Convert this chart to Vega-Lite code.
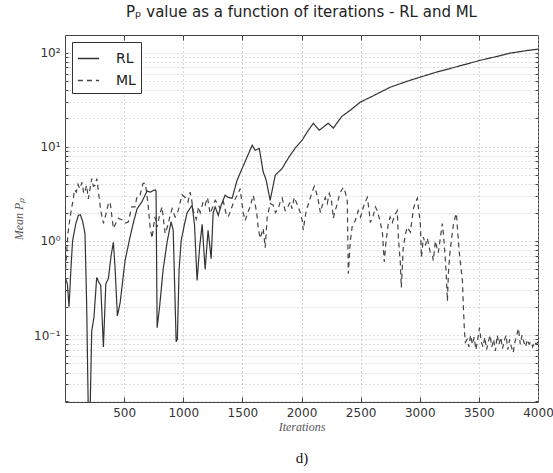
{
  "$schema": "https://vega.github.io/schema/vega-lite/v6.json",
  "background": "white",
  "padding": {"left": 12, "right": 14, "top": 4, "bottom": 5},
  "width": 473,
  "height": 367,
  "title": {"text": "Pₚ value as a function of iterations - RL and ML", "frame": "group", "anchor": "middle", "font": "DejaVu Sans", "fontSize": 15, "fontWeight": "normal", "color": "#222", "offset": 15},
  "data": {"values": [
    {"s":"RL","x":5,"y":0.4},{"s":"RL","x":20,"y":0.35},{"s":"RL","x":34,"y":0.2},{"s":"RL","x":50,"y":0.5},{"s":"RL","x":64,"y":1.0},{"s":"RL","x":90,"y":1.5},{"s":"RL","x":113,"y":1.87},{"s":"RL","x":130,"y":1.9},{"s":"RL","x":150,"y":1.6},{"s":"RL","x":169,"y":1.2},{"s":"RL","x":183,"y":0.22},{"s":"RL","x":197,"y":0.015},{"s":"RL","x":212,"y":0.015},{"s":"RL","x":226,"y":0.11},{"s":"RL","x":245,"y":0.155},{"s":"RL","x":268,"y":0.41},{"s":"RL","x":288,"y":0.36},{"s":"RL","x":302,"y":0.34},{"s":"RL","x":325,"y":0.075},{"s":"RL","x":345,"y":0.35},{"s":"RL","x":367,"y":0.4},{"s":"RL","x":390,"y":0.7},{"s":"RL","x":409,"y":0.97},{"s":"RL","x":423,"y":0.53},{"s":"RL","x":443,"y":0.16},{"s":"RL","x":466,"y":0.22},{"s":"RL","x":508,"y":0.62},{"s":"RL","x":550,"y":1.1},{"s":"RL","x":580,"y":1.6},{"s":"RL","x":610,"y":2.2},{"s":"RL","x":650,"y":2.6},{"s":"RL","x":694,"y":3.4},{"s":"RL","x":720,"y":3.3},{"s":"RL","x":762,"y":3.5},{"s":"RL","x":770,"y":3.4},{"s":"RL","x":779,"y":0.12},{"s":"RL","x":800,"y":0.2},{"s":"RL","x":830,"y":0.5},{"s":"RL","x":865,"y":1.0},{"s":"RL","x":897,"y":1.6},{"s":"RL","x":915,"y":1.3},{"s":"RL","x":940,"y":0.085},{"s":"RL","x":950,"y":0.09},{"s":"RL","x":965,"y":0.5},{"s":"RL","x":982,"y":1.0},{"s":"RL","x":1010,"y":1.5},{"s":"RL","x":1033,"y":2.0},{"s":"RL","x":1075,"y":2.4},{"s":"RL","x":1095,"y":1.5},{"s":"RL","x":1117,"y":0.38},{"s":"RL","x":1140,"y":0.9},{"s":"RL","x":1160,"y":1.5},{"s":"RL","x":1185,"y":0.5},{"s":"RL","x":1210,"y":1.3},{"s":"RL","x":1236,"y":0.65},{"s":"RL","x":1253,"y":2.0},{"s":"RL","x":1270,"y":2.3},{"s":"RL","x":1296,"y":1.87},{"s":"RL","x":1320,"y":2.4},{"s":"RL","x":1354,"y":3.06},{"s":"RL","x":1380,"y":2.9},{"s":"RL","x":1413,"y":2.84},{"s":"RL","x":1455,"y":4.4},{"s":"RL","x":1498,"y":5.9},{"s":"RL","x":1540,"y":7.8},{"s":"RL","x":1583,"y":10.4},{"s":"RL","x":1608,"y":9.2},{"s":"RL","x":1643,"y":9.6},{"s":"RL","x":1676,"y":5.4},{"s":"RL","x":1700,"y":4.5},{"s":"RL","x":1735,"y":2.7},{"s":"RL","x":1778,"y":5.0},{"s":"RL","x":1837,"y":5.9},{"s":"RL","x":1862,"y":6.7},{"s":"RL","x":1900,"y":8.0},{"s":"RL","x":1947,"y":9.7},{"s":"RL","x":2006,"y":11.8},{"s":"RL","x":2050,"y":14.5},{"s":"RL","x":2100,"y":17.8},{"s":"RL","x":2150,"y":15.0},{"s":"RL","x":2226,"y":17.8},{"s":"RL","x":2269,"y":15.8},{"s":"RL","x":2340,"y":21},{"s":"RL","x":2413,"y":24.5},{"s":"RL","x":2497,"y":29.8},{"s":"RL","x":2600,"y":34.5},{"s":"RL","x":2751,"y":43},{"s":"RL","x":2900,"y":50},{"s":"RL","x":3005,"y":55},{"s":"RL","x":3130,"y":61.5},{"s":"RL","x":3259,"y":68},{"s":"RL","x":3400,"y":76},{"s":"RL","x":3513,"y":83},{"s":"RL","x":3650,"y":91},{"s":"RL","x":3767,"y":99},{"s":"RL","x":3900,"y":105},{"s":"RL","x":4000,"y":109},
    {"s":"ML","x":5,"y":0.5},{"s":"ML","x":15,"y":0.8},{"s":"ML","x":25,"y":1.2},{"s":"ML","x":42,"y":1.74},{"s":"ML","x":55,"y":2.2},{"s":"ML","x":68,"y":2.7},{"s":"ML","x":80,"y":3.5},{"s":"ML","x":96,"y":3.3},{"s":"ML","x":110,"y":4.0},{"s":"ML","x":125,"y":3.6},{"s":"ML","x":144,"y":4.2},{"s":"ML","x":158,"y":3.2},{"s":"ML","x":169,"y":3.4},{"s":"ML","x":183,"y":3.9},{"s":"ML","x":197,"y":2.8},{"s":"ML","x":212,"y":3.6},{"s":"ML","x":226,"y":4.6},{"s":"ML","x":240,"y":3.8},{"s":"ML","x":254,"y":3.9},{"s":"ML","x":269,"y":4.6},{"s":"ML","x":282,"y":3.4},{"s":"ML","x":302,"y":2.1},{"s":"ML","x":325,"y":1.54},{"s":"ML","x":345,"y":1.9},{"s":"ML","x":367,"y":2.5},{"s":"ML","x":381,"y":2.6},{"s":"ML","x":395,"y":1.9},{"s":"ML","x":409,"y":1.36},{"s":"ML","x":425,"y":1.5},{"s":"ML","x":451,"y":1.74},{"s":"ML","x":470,"y":1.7},{"s":"ML","x":494,"y":1.66},{"s":"ML","x":515,"y":1.55},{"s":"ML","x":536,"y":1.6},{"s":"ML","x":564,"y":2.3},{"s":"ML","x":592,"y":2.3},{"s":"ML","x":610,"y":3.0},{"s":"ML","x":635,"y":3.1},{"s":"ML","x":660,"y":4.1},{"s":"ML","x":677,"y":4.1},{"s":"ML","x":690,"y":3.3},{"s":"ML","x":703,"y":2.4},{"s":"ML","x":720,"y":1.4},{"s":"ML","x":736,"y":1.07},{"s":"ML","x":745,"y":1.3},{"s":"ML","x":760,"y":1.8},{"s":"ML","x":779,"y":1.4},{"s":"ML","x":800,"y":1.9},{"s":"ML","x":821,"y":2.3},{"s":"ML","x":835,"y":1.6},{"s":"ML","x":847,"y":1.2},{"s":"ML","x":872,"y":1.5},{"s":"ML","x":890,"y":1.9},{"s":"ML","x":906,"y":2.2},{"s":"ML","x":931,"y":1.8},{"s":"ML","x":957,"y":2.1},{"s":"ML","x":975,"y":2.6},{"s":"ML","x":990,"y":3.1},{"s":"ML","x":1016,"y":2.9},{"s":"ML","x":1040,"y":2.6},{"s":"ML","x":1058,"y":3.3},{"s":"ML","x":1070,"y":2.8},{"s":"ML","x":1084,"y":2.1},{"s":"ML","x":1110,"y":1.7},{"s":"ML","x":1130,"y":2.3},{"s":"ML","x":1143,"y":2.0},{"s":"ML","x":1168,"y":2.6},{"s":"ML","x":1185,"y":2.4},{"s":"ML","x":1205,"y":2.9},{"s":"ML","x":1227,"y":1.96},{"s":"ML","x":1250,"y":2.3},{"s":"ML","x":1270,"y":2.7},{"s":"ML","x":1290,"y":2.5},{"s":"ML","x":1312,"y":2.2},{"s":"ML","x":1340,"y":2.6},{"s":"ML","x":1360,"y":2.0},{"s":"ML","x":1380,"y":1.8},{"s":"ML","x":1400,"y":2.1},{"s":"ML","x":1422,"y":2.5},{"s":"ML","x":1445,"y":2.9},{"s":"ML","x":1465,"y":3.2},{"s":"ML","x":1481,"y":3.6},{"s":"ML","x":1495,"y":2.6},{"s":"ML","x":1507,"y":2.0},{"s":"ML","x":1524,"y":1.65},{"s":"ML","x":1545,"y":2.0},{"s":"ML","x":1566,"y":2.3},{"s":"ML","x":1591,"y":3.06},{"s":"ML","x":1610,"y":2.4},{"s":"ML","x":1625,"y":1.8},{"s":"ML","x":1634,"y":1.36},{"s":"ML","x":1651,"y":1.07},{"s":"ML","x":1663,"y":1.2},{"s":"ML","x":1676,"y":1.36},{"s":"ML","x":1693,"y":0.85},{"s":"ML","x":1710,"y":1.8},{"s":"ML","x":1735,"y":2.5},{"s":"ML","x":1761,"y":2.4},{"s":"ML","x":1780,"y":2.0},{"s":"ML","x":1803,"y":2.2},{"s":"ML","x":1820,"y":2.6},{"s":"ML","x":1837,"y":2.85},{"s":"ML","x":1850,"y":2.4},{"s":"ML","x":1862,"y":2.1},{"s":"ML","x":1885,"y":2.3},{"s":"ML","x":1905,"y":2.6},{"s":"ML","x":1920,"y":2.2},{"s":"ML","x":1939,"y":2.9},{"s":"ML","x":1955,"y":2.6},{"s":"ML","x":1972,"y":2.3},{"s":"ML","x":1990,"y":2.0},{"s":"ML","x":2006,"y":1.65},{"s":"ML","x":2015,"y":1.3},{"s":"ML","x":2028,"y":1.7},{"s":"ML","x":2040,"y":2.1},{"s":"ML","x":2060,"y":2.5},{"s":"ML","x":2074,"y":2.85},{"s":"ML","x":2090,"y":3.3},{"s":"ML","x":2108,"y":3.8},{"s":"ML","x":2125,"y":3.3},{"s":"ML","x":2142,"y":2.7},{"s":"ML","x":2160,"y":2.0},{"s":"ML","x":2176,"y":2.4},{"s":"ML","x":2190,"y":2.6},{"s":"ML","x":2201,"y":2.9},{"s":"ML","x":2218,"y":2.5},{"s":"ML","x":2235,"y":3.2},{"s":"ML","x":2250,"y":2.8},{"s":"ML","x":2260,"y":2.3},{"s":"ML","x":2269,"y":1.74},{"s":"ML","x":2285,"y":2.1},{"s":"ML","x":2303,"y":2.5},{"s":"ML","x":2320,"y":3.06},{"s":"ML","x":2335,"y":3.4},{"s":"ML","x":2353,"y":3.7},{"s":"ML","x":2370,"y":3.3},{"s":"ML","x":2387,"y":2.7},{"s":"ML","x":2396,"y":0.45},{"s":"ML","x":2413,"y":1.0},{"s":"ML","x":2430,"y":1.47},{"s":"ML","x":2455,"y":1.65},{"s":"ML","x":2480,"y":2.1},{"s":"ML","x":2500,"y":1.8},{"s":"ML","x":2523,"y":2.3},{"s":"ML","x":2540,"y":2.6},{"s":"ML","x":2556,"y":2.9},{"s":"ML","x":2570,"y":2.2},{"s":"ML","x":2582,"y":1.57},{"s":"ML","x":2607,"y":1.87},{"s":"ML","x":2625,"y":2.3},{"s":"ML","x":2641,"y":2.1},{"s":"ML","x":2667,"y":1.57},{"s":"ML","x":2685,"y":1.2},{"s":"ML","x":2700,"y":0.6},{"s":"ML","x":2715,"y":1.0},{"s":"ML","x":2734,"y":1.53},{"s":"ML","x":2750,"y":1.8},{"s":"ML","x":2768,"y":1.57},{"s":"ML","x":2790,"y":1.9},{"s":"ML","x":2810,"y":2.1},{"s":"ML","x":2819,"y":1.1},{"s":"ML","x":2836,"y":0.58},{"s":"ML","x":2844,"y":0.32},{"s":"ML","x":2861,"y":0.86},{"s":"ML","x":2880,"y":1.2},{"s":"ML","x":2895,"y":1.4},{"s":"ML","x":2920,"y":1.24},{"s":"ML","x":2935,"y":1.7},{"s":"ML","x":2946,"y":2.2},{"s":"ML","x":2965,"y":2.6},{"s":"ML","x":2980,"y":2.85},{"s":"ML","x":2988,"y":2.3},{"s":"ML","x":3005,"y":1.53},{"s":"ML","x":3014,"y":0.67},{"s":"ML","x":3031,"y":1.1},{"s":"ML","x":3048,"y":0.9},{"s":"ML","x":3064,"y":1.07},{"s":"ML","x":3080,"y":0.85},{"s":"ML","x":3090,"y":0.75},{"s":"ML","x":3107,"y":0.7},{"s":"ML","x":3115,"y":0.62},{"s":"ML","x":3132,"y":1.0},{"s":"ML","x":3145,"y":0.85},{"s":"ML","x":3157,"y":0.75},{"s":"ML","x":3175,"y":1.1},{"s":"ML","x":3191,"y":1.53},{"s":"ML","x":3200,"y":1.2},{"s":"ML","x":3217,"y":0.62},{"s":"ML","x":3225,"y":0.41},{"s":"ML","x":3234,"y":0.23},{"s":"ML","x":3242,"y":0.45},{"s":"ML","x":3255,"y":0.75},{"s":"ML","x":3267,"y":1.0},{"s":"ML","x":3284,"y":1.47},{"s":"ML","x":3300,"y":1.8},{"s":"ML","x":3310,"y":1.96},{"s":"ML","x":3318,"y":1.4},{"s":"ML","x":3335,"y":0.74},{"s":"ML","x":3350,"y":0.5},{"s":"ML","x":3361,"y":0.38},{"s":"ML","x":3369,"y":0.2},{"s":"ML","x":3378,"y":0.11},{"s":"ML","x":3386,"y":0.084},
    {"s":"ML","x":3400,"y":0.09},{"s":"ML","x":3415,"y":0.075},{"s":"ML","x":3430,"y":0.1},{"s":"ML","x":3445,"y":0.08},{"s":"ML","x":3460,"y":0.095},{"s":"ML","x":3475,"y":0.07},{"s":"ML","x":3490,"y":0.09},{"s":"ML","x":3505,"y":0.12},{"s":"ML","x":3520,"y":0.085},{"s":"ML","x":3535,"y":0.075},{"s":"ML","x":3550,"y":0.095},{"s":"ML","x":3565,"y":0.07},{"s":"ML","x":3580,"y":0.085},{"s":"ML","x":3595,"y":0.1},{"s":"ML","x":3610,"y":0.075},{"s":"ML","x":3625,"y":0.09},{"s":"ML","x":3640,"y":0.068},{"s":"ML","x":3655,"y":0.1},{"s":"ML","x":3670,"y":0.08},{"s":"ML","x":3685,"y":0.095},{"s":"ML","x":3700,"y":0.072},{"s":"ML","x":3715,"y":0.088},{"s":"ML","x":3730,"y":0.1},{"s":"ML","x":3745,"y":0.07},{"s":"ML","x":3760,"y":0.09},{"s":"ML","x":3775,"y":0.075},{"s":"ML","x":3790,"y":0.065},{"s":"ML","x":3805,"y":0.085},{"s":"ML","x":3820,"y":0.1},{"s":"ML","x":3835,"y":0.118},{"s":"ML","x":3850,"y":0.08},{"s":"ML","x":3865,"y":0.1},{"s":"ML","x":3880,"y":0.085},{"s":"ML","x":3895,"y":0.075},{"s":"ML","x":3910,"y":0.09},{"s":"ML","x":3925,"y":0.08},{"s":"ML","x":3940,"y":0.085},{"s":"ML","x":3955,"y":0.075},{"s":"ML","x":3970,"y":0.085},{"s":"ML","x":3985,"y":0.08},{"s":"ML","x":4000,"y":0.085}
  ]},
  "layer": [
    {
      "mark": {"type": "line", "clip": true, "strokeWidth": 1.2},
      "encoding": {
        "x": {"field": "x", "type": "quantitative", "scale": {"domain": [0, 4000], "nice": false, "zero": false},
          "axis": {"orient": "bottom", "values": [500, 1000, 1500, 2000, 2500, 3000, 3500, 4000], "format": "d", "ticks": false, "domain": false, "grid": true, "gridDash": [1, 3], "gridColor": "#aaa", "title": "Iterations", "titleFont": "Liberation Serif", "titleFontStyle": "italic", "titleFontWeight": "normal", "titleFontSize": 12, "titleColor": "#555", "titlePadding": 3, "labelFont": "DejaVu Sans", "labelFontSize": 12, "labelColor": "#333", "labelPadding": 5, "labelFlush": false}},
        "y": {"field": "y", "type": "quantitative", "scale": {"type": "log", "domain": [0.0195, 154], "nice": false},
          "axis": {"orient": "left", "values": [0.02,0.03,0.04,0.05,0.06,0.07,0.08,0.09,0.1,0.2,0.3,0.4,0.5,0.6,0.7,0.8,0.9,1,2,3,4,5,6,7,8,9,10,20,30,40,50,60,70,80,90,100], "labelExpr": "datum.value == 100 ? '10²' : datum.value == 10 ? '10¹' : datum.value == 1 ? '10⁰' : datum.value == 0.1 ? '10⁻¹' : ''", "ticks": false, "domain": false, "grid": true, "gridDash": [1, 3], "gridColor": "#bbb", "title": "Mean Pₚ", "titleFont": "Liberation Serif", "titleFontStyle": "italic", "titleFontWeight": "normal", "titleFontSize": 12, "titleColor": "#555", "titlePadding": 8, "labelFont": "DejaVu Sans", "labelFontSize": 12, "labelColor": "#333", "labelPadding": 5}},
        "color": {"field": "s", "type": "nominal", "scale": {"domain": ["RL", "ML"], "range": ["#333333", "#444444"]},
          "legend": {"title": null, "orient": "top-left", "offset": 7, "padding": 5, "strokeColor": "#333", "fillColor": "white", "symbolType": "stroke", "symbolSize": 450, "symbolStrokeWidth": 1.5, "labelFont": "DejaVu Sans", "labelFontSize": 14, "labelColor": "#222", "labelOffset": 16, "rowPadding": 3}},
        "strokeDash": {"field": "s", "type": "nominal", "scale": {"domain": ["RL", "ML"], "range": [[1, 0], [5, 4]]}, "legend": {"title": null}}
      }
    },
    {
      "mark": {"type": "line", "opacity": 0},
      "encoding": {
        "x": {"field": "x", "type": "quantitative", "axis": {"orient": "top", "values": [500, 1000, 1500, 2000, 2500, 3000, 3500], "labels": false, "title": null, "grid": false, "domain": false, "tickSize": -5, "tickColor": "#444"}},
        "y": {"field": "y", "type": "quantitative", "axis": {"orient": "right", "values": [0.02,0.03,0.04,0.05,0.06,0.07,0.08,0.09,0.1,0.2,0.3,0.4,0.5,0.6,0.7,0.8,0.9,1,2,3,4,5,6,7,8,9,10,20,30,40,50,60,70,80,90,100], "labels": false, "title": null, "grid": false, "domain": false, "tickSize": -3, "tickColor": "#444"}},
        "detail": {"field": "s"}
      }
    },
    {
      "mark": {"type": "line", "opacity": 0},
      "encoding": {
        "x": {"field": "x", "type": "quantitative", "axis": {"orient": "bottom", "values": [500, 1000, 1500, 2000, 2500, 3000, 3500], "labels": false, "title": "d)", "titleFont": "Liberation Serif", "titleFontWeight": "normal", "titleFontSize": 15, "titleColor": "#111", "titlePadding": 48, "grid": false, "domain": false, "tickSize": -5, "tickColor": "#444"}},
        "y": {"field": "y", "type": "quantitative", "axis": {"orient": "left", "values": [0.02,0.03,0.04,0.05,0.06,0.07,0.08,0.09,0.1,0.2,0.3,0.4,0.5,0.6,0.7,0.8,0.9,1,2,3,4,5,6,7,8,9,10,20,30,40,50,60,70,80,90,100], "labels": false, "title": null, "grid": false, "domain": false, "tickSize": -3, "tickColor": "#444"}},
        "detail": {"field": "s"}
      }
    }
  ],
  "resolve": {"axis": {"x": "independent", "y": "independent"}},
  "config": {"view": {"stroke": "#444", "strokeWidth": 1}}
}
